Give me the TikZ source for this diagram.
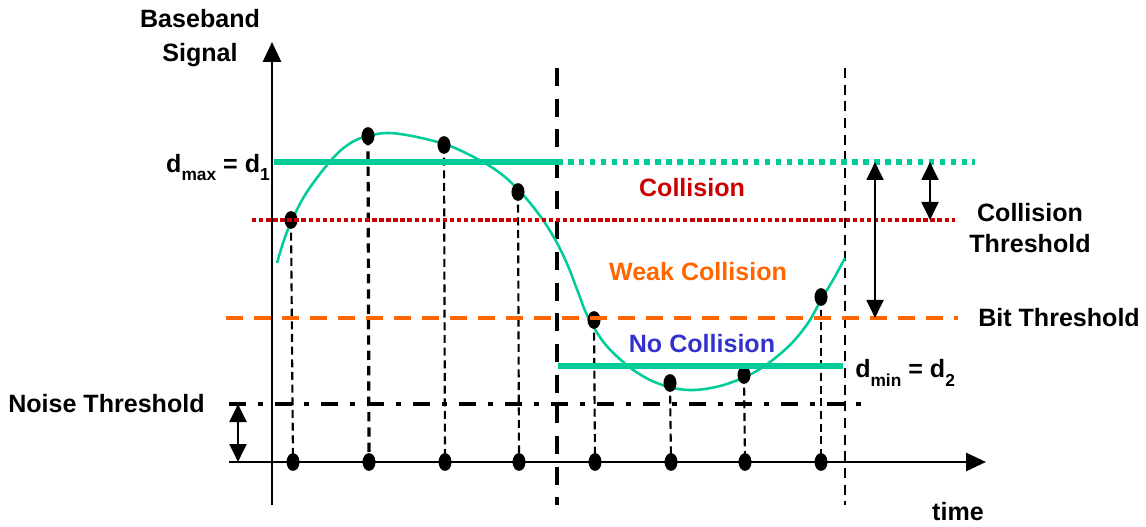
\documentclass[tikz,border=0pt]{standalone}
\usepackage{fontspec}
\setmainfont{Liberation Sans}
\usetikzlibrary{arrows.meta,shapes.geometric}
\definecolor{sgreen}{RGB}{0,204,153}
\definecolor{sred}{RGB}{204,0,0}
\definecolor{sorange}{RGB}{255,102,0}
\definecolor{sblue}{RGB}{51,51,204}
\newcommand{\sbs}[1]{\raisebox{-6pt}{\fontsize{13}{13}\selectfont #1}}
\begin{document}
\begin{tikzpicture}[x=0.75pt,y=-0.75pt,
  lbl/.style={font=\fontsize{18.8}{23}\selectfont\bfseries, inner sep=0pt},
  sdot/.style={ellipse, fill=black, minimum width=9.8pt, minimum height=13.3pt, inner sep=0pt},
  guide/.style={black, line width=1.6pt, dash pattern=on 6pt off 3.5pt},
  guidethick/.style={black, line width=2.4pt, dash pattern=on 7pt off 4.5pt},
  sepline/.style={black, line width=3.4pt, dash pattern=on 13.5pt off 9.5pt},
  septhin/.style={black, line width=2.1pt, dash pattern=on 7.5pt off 5pt},
  axis/.style={black, line width=2.2pt, -{Triangle[width=13.5pt,length=15pt]}},
  dbl/.style={black, line width=2.2pt, {Triangle[width=12.5pt,length=13.5pt]}-{Triangle[width=12.5pt,length=13.5pt]}},
  dmaxline/.style={sgreen, line width=3.9pt},
  dmaxdot/.style={sgreen, line width=4.1pt, dash pattern=on 4.2pt off 4pt},
  colline/.style={sred, line width=3.2pt, dash pattern=on 3.3pt off 2pt},
  bitline/.style={sorange, line width=3pt, dash pattern=on 12.5pt off 8.5pt},
  noiseline/.style={black, line width=3pt, dash pattern=on 12.75pt off 9pt on 3.75pt off 9pt},
  curve/.style={sgreen, line width=1.9pt}
]
\useasboundingbox (0,0) rectangle (1146,527);

% sample points on the curve and on the axis
\coordinate (p1) at (291,220);
\coordinate (p2) at (368,136);
\coordinate (p3) at (444,145);
\coordinate (p4) at (518,192);
\coordinate (p5) at (594,320);
\coordinate (p6) at (670,383);
\coordinate (p7) at (744,375);
\coordinate (p8) at (821,297);
\coordinate (a1) at (293,462);
\coordinate (a2) at (369,462);
\coordinate (a3) at (445,462);
\coordinate (a4) at (519,462);
\coordinate (a5) at (595,462);
\coordinate (a6) at (671,462);
\coordinate (a7) at (745,462);
\coordinate (a8) at (821,462);

% guide lines
\draw[guide] (p1) -- (a1);
\draw[guidethick] (p2) -- (a2);
\foreach \i in {3,...,8} \draw[guide] (p\i) -- (a\i);

% separators
\coordinate (s1t) at (557,68);
\coordinate (s1b) at (557,505);
\coordinate (s2t) at (845,68);
\coordinate (s2b) at (845,505);
\draw[sepline] (s1t) -- (s1b);
\draw[septhin] (s2t) -- (s2b);

% signal curve
\draw[curve] plot[smooth, tension=0.55] coordinates {(277,263) (284,240) (292,220) (305,195) (323,170) (340,151) (356,140) (372,135) (390,133) (417,137) (450,146) (483,162) (505,177) (525,197) (543,220) (557,243) (568,266) (578,292) (588,317) (605,344) (628,366) (650,380) (673,388) (695,390) (720,386) (745,377) (766,365) (790,345) (808,323) (821,300) (833,280) (845,258)};

% points on the curve
\foreach \i in {1,...,8} \node[sdot] (pn\i) at (p\i) {};

% threshold lines
\coordinate (g1) at (274,162);
\coordinate (g2) at (557,162);
\coordinate (g3) at (975,162);
\coordinate (r1) at (252,220);
\coordinate (r2) at (955,220);
\coordinate (o1) at (226,318);
\coordinate (o2) at (958,318);
\coordinate (m1) at (558,366);
\coordinate (m2) at (843,366);
\coordinate (n1) at (229,404);
\coordinate (n2) at (866,404);
\draw[dmaxdot] (g2) -- (g3);
\draw[dmaxline] (g1) -- (g2);
\draw[colline] (r1) -- (r2);
\draw[bitline] (o1) -- (o2);
\draw[dmaxline] (m1) -- (m2);
\draw[noiseline] (n1) -- (n2);

% axes
\coordinate (yb) at (272,505);
\coordinate (yt) at (272,42);
\coordinate (xl) at (229,462);
\coordinate (xr) at (986,462);
\draw[axis] (yb) -- (yt);
\draw[axis] (xl) -- (xr);
\foreach \i in {1,...,8} \node[sdot] (an\i) at (a\i) {};

% double arrows
\coordinate (da1) at (875,162);
\coordinate (da2) at (875,318);
\coordinate (db1) at (930,162);
\coordinate (db2) at (930,220);
\coordinate (dn1) at (238,404);
\coordinate (dn2) at (238,462);
\draw[dbl] (da1) -- (da2);
\draw[dbl] (db1) -- (db2);
\draw[dbl] (dn1) -- (dn2);

% labels
\node[lbl, align=center, font=\fontsize{18.8}{25.5}\selectfont\bfseries] (ylab) at (200,38) {Baseband\\Signal};
\node[lbl, anchor=base east] (dmax) at (270,173) {d\sbs{max} = d\sbs{1}};
\node[lbl, anchor=base west] (dmin) at (855,378) {d\sbs{min} = d\sbs{2}};
\node[lbl, text=sred] (coll) at (692,188) {Collision};
\node[lbl, text=sorange] (weak) at (698,272) {Weak Collision};
\node[lbl, text=sblue] (nocoll) at (702,344) {No Collision};
\node[lbl, align=center, font=\fontsize{18.8}{23.5}\selectfont\bfseries] (cthr) at (1030,228) {Collision\\Threshold};
\node[lbl, anchor=west] (bthr) at (978,318) {Bit Threshold};
\node[lbl, anchor=west] (nthr) at (8,404) {Noise Threshold};
\node[lbl] (time) at (958,512) {time};
\end{tikzpicture}
\end{document}
